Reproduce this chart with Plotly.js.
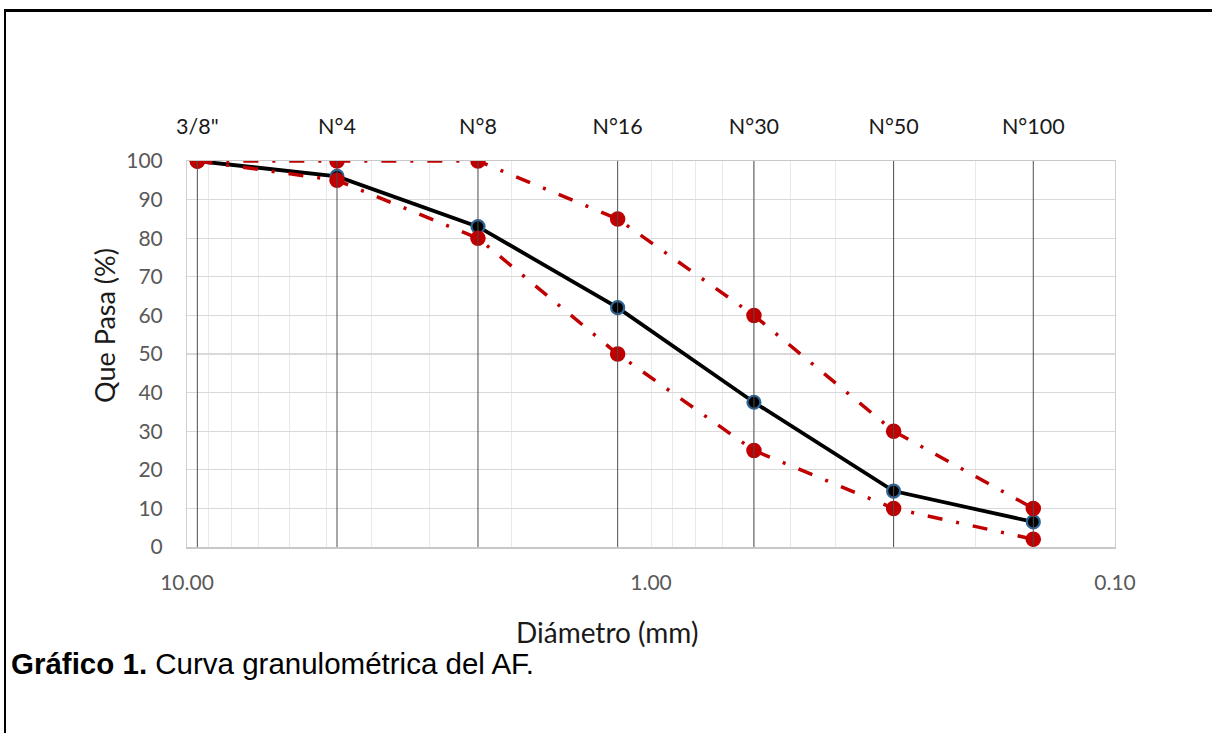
<!DOCTYPE html>
<html>
<head>
<meta charset="utf-8">
<script src="https://cdn.plot.ly/plotly-3.0.1.min.js"></script>
<style>
  html, body { margin: 0; padding: 0; background: #fff; }
  #chart { position: absolute; left: 0; top: 0; width: 1212px; height: 733px; }
  #frame { position: absolute; left: 4px; top: 9px; width: 1300px; height: 800px;
           border-left: 2px solid #000; border-top: 3px solid #000; pointer-events: none; }
</style>
</head>
<body>
<div id="chart"></div>
<div id="frame"></div>
<script>
// Sieve names and openings (mm)
const sieveNames = ['3/8"', 'N°4', 'N°8', 'N°16', 'N°30', 'N°50', 'N°100'];
const sieveSizes = [9.5, 4.75, 2.36, 1.18, 0.6, 0.3, 0.15];
// Percent passing
const passing = [100, 96, 83, 62, 37.5, 14.5, 6.5];
const upperLimit = [100, 100, 100, 85, 60, 30, 10];
const lowerLimit = [100, 95, 80, 50, 25, 10, 2];
// Axis labels
const xTitle = 'Diámetro (mm)';
const yTitle = 'Que Pasa (%)';
const caption = '<b>Gráfico 1.</b> Curva granulométrica del AF.';

// Log gridline positions (decades 0.1–10) and labels only on decades
const xTickVals = [];
const xTickText = [];
[-1, 0].forEach(e => {
  for (let k = 1; k <= 9; k++) {
    const v = k * Math.pow(10, e);
    xTickVals.push(v);
    xTickText.push(k === 1 ? v.toFixed(2) : '');
  }
});
xTickVals.push(10);
xTickText.push((10).toFixed(2));

// Vertical reference lines at each sieve (0 to 100)
const vx = [], vy = [];
sieveSizes.forEach(s => { vx.push(s, s, null); vy.push(0, 100, null); });

const chartFont = 'Lato, "Open Sans", sans-serif';
const red = '#c00000';

const traces = [
  {
    x: vx, y: vy, xaxis: 'x2', yaxis: 'y', mode: 'lines', type: 'scatter',
    line: { color: '#4d4d4d', width: 1 }, hoverinfo: 'skip', showlegend: false
  },
  {
    x: sieveSizes, y: passing, mode: 'lines+markers', type: 'scatter',
    line: { color: '#000000', width: 3.8 },
    marker: { color: '#000000', size: 13, line: { color: '#2e6496', width: 2.2 } },
    showlegend: false
  },
  {
    x: sieveSizes, y: upperLimit, mode: 'lines+markers', type: 'scatter',
    line: { color: red, width: 3.5, dash: '15px,14px,3px,14px' },
    marker: { color: red, size: 15.5 },
    showlegend: false
  },
  {
    x: sieveSizes, y: lowerLimit, mode: 'lines+markers', type: 'scatter',
    line: { color: red, width: 3.5, dash: '15px,14px,3px,14px' },
    marker: { color: red, size: 15.5 },
    showlegend: false
  }
];

const L = 187, R = 97, T = 161, B = 186, W = 1212, H = 733;
const pw = W - L - R, ph = H - T - B;
const px = x => (x - L) / pw;
const py = y => (H - B - y) / ph;

const layout = {
  width: W, height: H,
  margin: { l: L, r: R, t: T, b: B, pad: 0 },
  paper_bgcolor: '#ffffff', plot_bgcolor: '#ffffff',
  font: { family: chartFont, color: '#595959' },
  showlegend: false,
  xaxis: {
    type: 'log', range: [1, -1],
    tickmode: 'array', tickvals: xTickVals, ticktext: xTickText,
    showgrid: true, gridcolor: '#e9e9e9', gridwidth: 1,
    showline: true, linecolor: '#c8c8c8', linewidth: 1.5, mirror: true,
    ticks: 'outside', ticklen: 16, tickcolor: 'rgba(0,0,0,0)',
    tickfont: { family: chartFont, size: 21, color: '#595959' },
    zeroline: false, fixedrange: true
  },
  xaxis2: {
    type: 'log', range: [1, -1], overlaying: 'x', side: 'top',
    tickmode: 'array', tickvals: sieveSizes, ticktext: sieveNames,
    showgrid: false, showline: false, zeroline: false,
    ticks: 'outside', ticklen: 17, tickcolor: 'rgba(0,0,0,0)',
    tickfont: { family: chartFont, size: 21.5, color: '#1a1a1a' },
    fixedrange: true
  },
  yaxis: {
    range: [0, 100], dtick: 10, tick0: 0,
    showgrid: true, gridcolor: '#d9d9d9', gridwidth: 1.3,
    showline: true, linecolor: '#d0d0d0', linewidth: 1, mirror: true,
    ticks: 'outside', ticklen: 19, tickcolor: 'rgba(0,0,0,0)',
    tickfont: { family: chartFont, size: 21, color: '#595959' },
    zeroline: false, fixedrange: true
  },
  annotations: [
    { text: yTitle, xref: 'paper', yref: 'paper', x: px(104), y: py(326),
      xanchor: 'center', yanchor: 'middle', textangle: -90, showarrow: false,
      font: { family: chartFont, size: 27, color: '#1a1a1a' } },
    { text: xTitle, xref: 'paper', yref: 'paper', x: px(607), y: py(632),
      xanchor: 'center', yanchor: 'middle', showarrow: false,
      font: { family: chartFont, size: 28, color: '#1a1a1a' } },
    { text: caption, xref: 'paper', yref: 'paper', x: px(9), y: py(663),
      xanchor: 'left', yanchor: 'middle', showarrow: false,
      font: { family: '"Liberation Sans", Arial, sans-serif', size: 29.5, color: '#000000' } }
  ]
};

Plotly.newPlot('chart', traces, layout, { displayModeBar: false, staticPlot: true });
</script>
</body>
</html>
